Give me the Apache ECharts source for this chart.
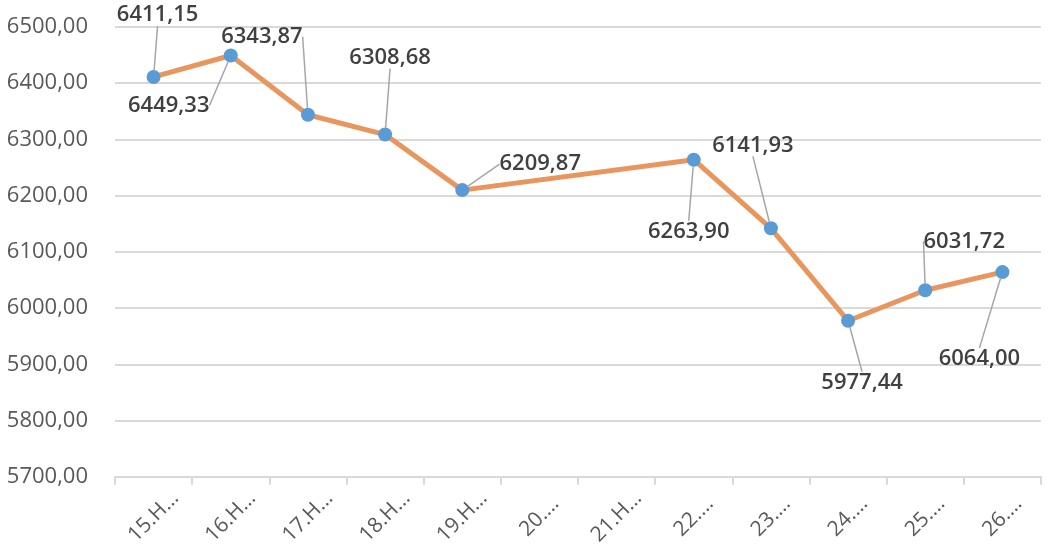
<!DOCTYPE html>
<html>
	<head>
		<meta charset="utf-8" />
		<title></title>
		<script src="https://cdn.jsdelivr.net/npm/echarts@6/dist/echarts.min.js"></script>
		<style>
			body{ margin:0; background:#fff; }
			#dvchart{ width:1051px; height:548px; }
		</style>
	</head>
	<body>
		<div id="dvchart"></div>
		<script>
			// категории (подписи оси X как на картинке)
			var days = ['15.Н…', '16.Н…', '17.Н…', '18.Н…', '19.Н…', '20.…', '21.Н…', '22.…', '23.…', '24.…', '25.…', '26.…'];
			// значения, 20 и 21 пустые
			var values = [6411.15, 6449.33, 6343.87, 6308.68, 6209.87, null, null, 6263.90, 6141.93, 5977.44, 6031.72, 6064.00];
			var yMin = 5700, yMax = 6500, yStep = 100;

			// сдвиг подписей от точки (dx, dy)
			var labelDx = [4, -62, -46, 5, 78, 0, 0, -5, -18, 14, 39, -23];
			var labelDy = [-62, 50, -78, -77, -26, 0, 0, 72, -83, 62, -49, 87];

			function fmt(v){
				return v.toFixed(2).replace('.', ',');
			}

			var chart1 = echarts.init(document.getElementById('dvchart'));
			var option1 = {
				animation: false,
				grid: { left: 115, right: 10, top: 27, bottom: 71 },
				xAxis: {
					type: 'category',
					boundaryGap: true,
					data: days,
					axisLine: { lineStyle: { color: '#d9d9d9', width: 2 } },
					axisTick: { show: true, length: 8, lineStyle: { color: '#d9d9d9', width: 2 } },
					axisLabel: {
						rotate: 45,
						interval: 0,
						margin: 40,
						align: 'center',
						verticalAlign: 'middle',
						color: '#595959',
						fontFamily: 'Open Sans',
						fontSize: 21
					}
				},
				yAxis: {
					type: 'value',
					min: yMin,
					max: yMax,
					interval: yStep,
					axisLine: { show: false },
					axisTick: { show: false },
					splitLine: { lineStyle: { color: '#d9d9d9', width: 2 } },
					axisLabel: {
						margin: 27,
						color: '#595959',
						fontFamily: 'Open Sans',
						fontSize: 22,
						formatter: function(v){ return fmt(v); }
					}
				},
				series: [{
					type: 'line',
					data: values,
					connectNulls: true,
					symbol: 'circle',
					symbolSize: 14,
					itemStyle: { color: '#5B9BD5' },
					lineStyle: { color: '#E9965E', width: 5 },
					label: {
						show: true,
						position: 'inside',
						color: '#404040',
						fontFamily: 'Open Sans',
						fontWeight: 600,
						fontSize: 22,
						formatter: function(p){ return fmt(p.value); }
					},
					labelLine: {
						show: true,
						length2: 0,
						lineStyle: { color: '#a6a6a6', width: 1.5 }
					},
					labelLayout: function(p){
						return { dx: labelDx[p.dataIndex], dy: labelDy[p.dataIndex] };
					}
				}]
			};
			chart1.setOption(option1);
		</script>
	</body>
</html>
